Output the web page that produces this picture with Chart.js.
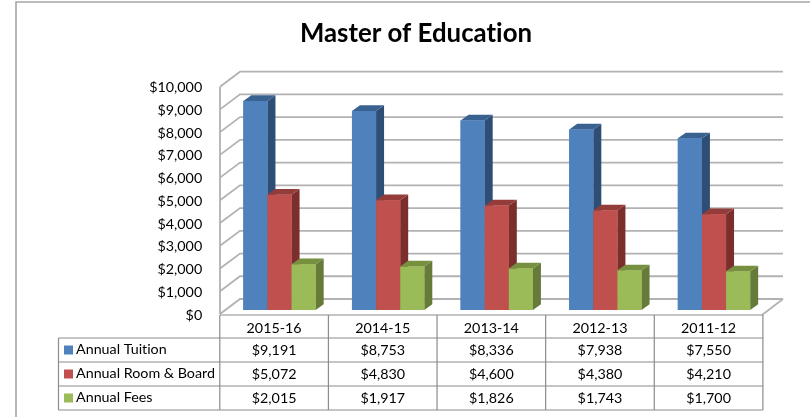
<!DOCTYPE html>
<html><head><meta charset="utf-8">
<style>html,body{margin:0;padding:0;background:#fff}#w{width:810px;height:417px;position:relative}</style>
<script src="https://cdn.jsdelivr.net/npm/chart.js@4"></script>
</head><body><div id="w"><canvas id="c" width="810" height="417"></canvas></div>
<script>
const chartTitle = "Master of Education";
const categories = ["2015-16","2014-15","2013-14","2012-13","2011-12"];
const seriesNames = ["Annual Tuition","Annual Room & Board","Annual Fees"];
const annualTuition = [9191,8753,8336,7938,7550];
const annualRoomBoard = [5072,4830,4600,4380,4210];
const annualFees = [2015,1917,1826,1743,1700];
const seriesColors = ["#4F81BD","#C0504D","#9BBB59"];
const sideColors = ["#2F4E75","#7C2E2D","#667A3A"];
const topColors = ["#3A6290","#943C3A","#76903F"];
const fontName = "Lato, 'Open Sans', sans-serif";
const money = v => "$" + v.toLocaleString("en-US");

const gridColor = "#B2B2B2";
const depth3d = {
  id: "depth3d",
  beforeDraw(chart) { chart.ctx.textRendering = "optimizeSpeed"; },
  beforeDatasetsDraw(chart) {
    const {ctx, scales:{x,y}, chartArea:a} = chart;
    const fx = a.left - 5.2, bx = fx + 20, rx = a.right + 14.7;
    ctx.save();
    ctx.strokeStyle = gridColor; ctx.lineWidth = 1.8;
    const fy = y.getPixelForValue(0) + 4, by = fy - 15;
    ctx.beginPath();
    ctx.moveTo(rx, by); ctx.lineTo(rx - 21, fy + 1);
    ctx.stroke();
    y.ticks.forEach(t => {
      const p = y.getPixelForValue(t.value);
      ctx.beginPath();
      ctx.moveTo(fx, p + 4); ctx.lineTo(bx, p - 11); ctx.lineTo(rx, p - 11);
      ctx.stroke();
    });
    ctx.beginPath();
    ctx.moveTo(fx, y.getPixelForValue(10000) + 4); ctx.lineTo(fx, fy);
    ctx.stroke();
    ctx.restore();
  },
  afterDatasetsDraw(chart) {
    const {ctx} = chart;
    const dx = 8, dy = 5.7;
    ctx.save();
    // paint left to right so each front face covers its neighbour's side face
    for (let g = 0; g < categories.length; g++) {
      for (let i = 0; i < seriesNames.length; i++) {
        const b = chart.getDatasetMeta(i).data[g];
        const l = b.x - b.width/2, r = b.x + b.width/2, t = b.y, base = b.base;
        ctx.fillStyle = sideColors[i];
        ctx.beginPath();
        ctx.moveTo(r,t); ctx.lineTo(r+dx,t-dy); ctx.lineTo(r+dx,base-dy); ctx.lineTo(r,base);
        ctx.closePath(); ctx.fill();
        ctx.fillStyle = topColors[i];
        ctx.beginPath();
        ctx.moveTo(l,t); ctx.lineTo(l+dx,t-dy); ctx.lineTo(r+dx,t-dy); ctx.lineTo(r,t);
        ctx.closePath(); ctx.fill();
        b.draw(ctx);
      }
    }
    ctx.restore();
  },
  afterDraw(chart) {
    const {ctx, scales:{x}} = chart;
    const step = x.getPixelForTick(1) - x.getPixelForTick(0);
    const colX = i => x.getPixelForTick(0) - step/2 - 5.4 + i*step;
    const rowY = [315, 338, 362, 386, 410];
    const tableL = 58.5, n = categories.length;
    const rows = [annualTuition, annualRoomBoard, annualFees];
    ctx.save();
    ctx.strokeStyle = "#A6A6A6"; ctx.lineWidth = 1.6;
    ctx.beginPath(); ctx.moveTo(16, 417); ctx.lineTo(16, 2); ctx.lineTo(810, 2); ctx.stroke();
    ctx.strokeStyle = "#8C8C8C"; ctx.lineWidth = 1.2;
    ctx.beginPath();
    ctx.moveTo(colX(0), rowY[0]); ctx.lineTo(colX(n), rowY[0]);
    rowY.slice(1).forEach(yy => { ctx.moveTo(tableL, yy); ctx.lineTo(colX(n), yy); });
    for (let i = 0; i <= n; i++) { ctx.moveTo(colX(i), rowY[0]); ctx.lineTo(colX(i), rowY[4]); }
    ctx.moveTo(tableL, rowY[1]); ctx.lineTo(tableL, rowY[4]);
    ctx.stroke();
    ctx.font = "14.3px " + fontName; ctx.fillStyle = "#000"; ctx.textBaseline = "middle";
    ctx.textAlign = "center";
    categories.forEach((c, i) => ctx.fillText(c, (colX(i)+colX(i+1))/2, rowY[0] + 13.5));
    rows.forEach((vals, r) => {
      const cy = (rowY[r+1] + rowY[r+2]) / 2;
      ctx.textAlign = "center";
      vals.forEach((v, i) => ctx.fillText(money(v), (colX(i)+colX(i+1))/2, cy));
      ctx.fillStyle = seriesColors[r];
      ctx.fillRect(64, Math.round(cy) - 4.5, 9, 9);
      ctx.fillStyle = "#000";
      ctx.textAlign = "left";
      ctx.fillText(seriesNames[r], 76, cy - 0.5);
    });
    ctx.restore();
  }
};

new Chart(document.getElementById("c"), {
  type: "bar",
  data: { labels: categories, datasets: [
    {label: seriesNames[0], data: annualTuition, backgroundColor: seriesColors[0]},
    {label: seriesNames[1], data: annualRoomBoard, backgroundColor: seriesColors[1]},
    {label: seriesNames[2], data: annualFees, backgroundColor: seriesColors[2]}
  ]},
  options: {
    responsive: false, animation: false, devicePixelRatio: 1,
    datasets: { bar: { categoryPercentage: 0.666, barPercentage: 1 } },
    layout: { padding: { left: 63.7, right: 41.7, top: 18, bottom: 107 } },
    plugins: {
      legend: { display: false }, tooltip: { enabled: false },
      title: { display: true, text: chartTitle, color: "#000",
        font: { family: fontName, size: 25.8, weight: "bold" },
        padding: { top: 0, bottom: 33.7 } }
    },
    scales: {
      x: { display: false },
      y: { min: 0, max: 10000,
        afterFit(s) { s.width = 161.5; },
        grid: { display: false }, border: { display: false },
        ticks: { stepSize: 1000, color: "#000", padding: 15, labelOffset: 5,
          font: { family: fontName, size: 14.3 },
          callback: v => money(v) } }
    }
  },
  plugins: [depth3d]
});
</script></body></html>
